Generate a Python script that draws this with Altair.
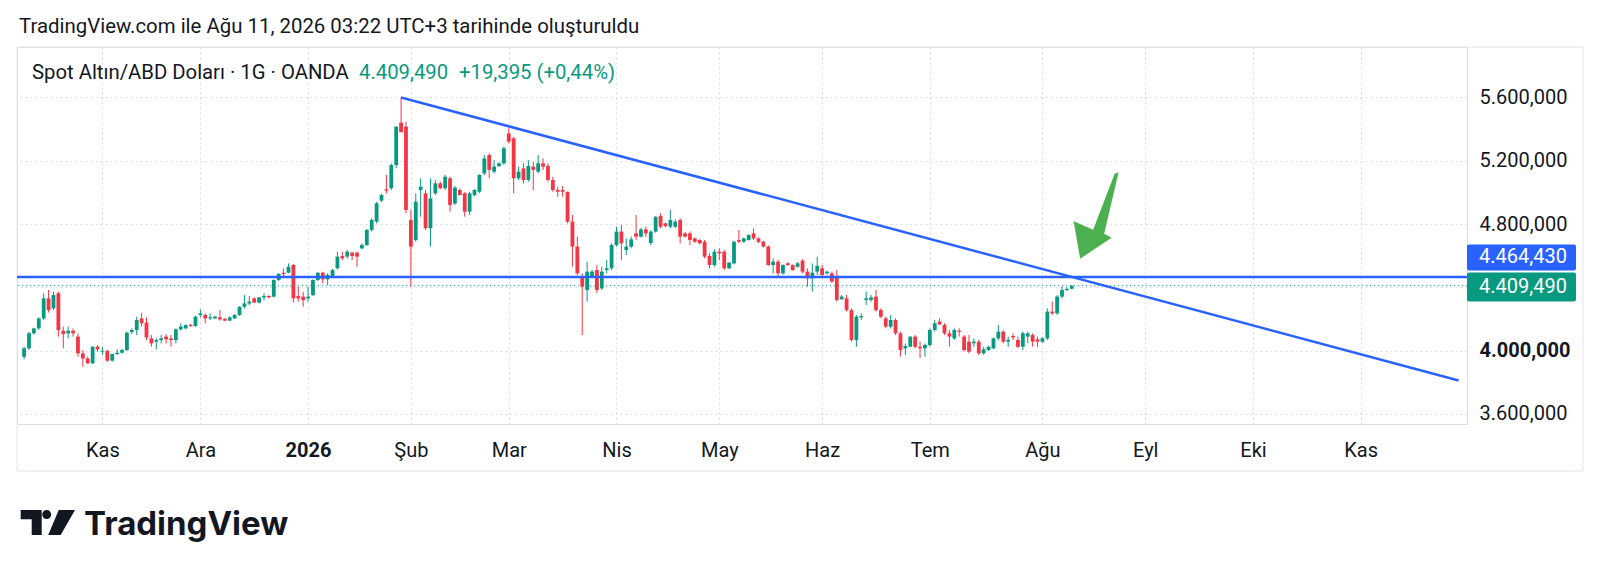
import altair as alt
import pandas as pd

# ---------------- data (XAU/USD daily, OANDA) ----------------
opens = [3961, 4014, 4109, 4140, 4203, 4330, 4267, 4362, 4125, 4109, 4125, 4088, 3982, 3950, 3919, 4024, 3993, 3999, 3936, 3978,
         3986, 4003, 4117, 4130, 4203, 4176, 4077, 4056, 4066, 4088, 4077, 4066, 4134, 4140, 4161, 4155, 4225, 4225, 4203, 4203,
         4210, 4201, 4189, 4203, 4225, 4277, 4298, 4330, 4303, 4336, 4345, 4341, 4446, 4492, 4492, 4541, 4345, 4341, 4330, 4351,
         4446, 4492, 4450, 4471, 4520, 4598, 4594, 4619, 4619, 4646, 4667, 4762, 4815, 4948, 5019, 5026, 5173, 5441, 5416, 4825,
         4699, 5015, 4994, 4773, 4994, 5057, 5026, 5089, 4930, 5015, 4994, 4878, 4983, 5004, 5120, 5236, 5131, 5167, 5184, 5373,
         5342, 5089, 5152, 5078, 5163, 5131, 5184, 5167, 5078, 5015, 5015, 5004, 4815, 4657, 4467, 4383, 4467, 4509, 4393, 4509,
         4520, 4667, 4752, 4636, 4657, 4741, 4720, 4766, 4680, 4752, 4851, 4804, 4783, 4783, 4825, 4741, 4741, 4709, 4699, 4688,
         4598, 4541, 4625, 4625, 4520, 4551, 4699, 4688, 4699, 4741, 4709, 4688, 4657, 4541, 4562, 4488, 4551, 4541, 4530, 4568,
         4499, 4457, 4499, 4520, 4488, 4488, 4467, 4324, 4330, 4256, 4067, 4210, 4320, 4320, 4341, 4256, 4204, 4151, 4193, 4109,
         4014, 4024, 4088, 4024, 4014, 4035, 4130, 4183, 4161, 4109, 4077, 4126, 4088, 4056, 4046, 4056, 3982, 4003, 4014, 4077,
         4119, 4056, 4092, 4067, 4024, 4088, 4098, 4071, 4056, 4077, 4246, 4235, 4341, 4383, 4391]
highs = [4024, 4119, 4145, 4210, 4362, 4383, 4372, 4372, 4151, 4151, 4140, 4109, 4003, 3961, 4028, 4035, 4024, 4003, 3980, 4007,
         4010, 4120, 4140, 4214, 4239, 4210, 4098, 4077, 4098, 4104, 4098, 4140, 4172, 4165, 4168, 4220, 4260, 4235, 4235, 4220,
         4256, 4205, 4215, 4230, 4280, 4351, 4345, 4336, 4340, 4362, 4350, 4450, 4490, 4520, 4551, 4547, 4404, 4372, 4404, 4450,
         4495, 4499, 4488, 4515, 4625, 4625, 4636, 4625, 4625, 4678, 4770, 4836, 4941, 4990, 5110, 5184, 5416, 5600, 5447, 4889,
         4994, 5089, 5015, 5089, 5078, 5068, 5110, 5099, 5040, 5026, 5004, 5004, 5020, 5115, 5236, 5247, 5205, 5190, 5289, 5405,
         5352, 5163, 5184, 5205, 5194, 5236, 5215, 5184, 5099, 5036, 5040, 5004, 4857, 4720, 4488, 4562, 4510, 4541, 4530, 4572,
         4678, 4783, 4794, 4709, 4720, 4857, 4775, 4783, 4760, 4850, 4868, 4810, 4889, 4830, 4836, 4750, 4752, 4715, 4705, 4699,
         4615, 4640, 4646, 4636, 4560, 4695, 4762, 4715, 4735, 4773, 4715, 4695, 4665, 4583, 4572, 4545, 4560, 4545, 4560, 4577,
         4520, 4551, 4594, 4541, 4505, 4499, 4509, 4351, 4351, 4267, 4225, 4235, 4372, 4351, 4383, 4267, 4214, 4225, 4204, 4119,
         4045, 4090, 4098, 4056, 4045, 4140, 4193, 4204, 4172, 4130, 4140, 4140, 4098, 4098, 4077, 4067, 4024, 4030, 4082, 4161,
         4130, 4088, 4109, 4088, 4119, 4119, 4109, 4088, 4085, 4267, 4309, 4351, 4404, 4400, 4415]
lows = [3944, 4003, 4100, 4130, 4193, 4240, 4256, 4088, 4014, 4077, 4088, 3961, 3898, 3915, 3915, 3993, 3972, 3929, 3930, 3972,
        3980, 3998, 4104, 4098, 4151, 4066, 4024, 4007, 4045, 4045, 4024, 4045, 4125, 4134, 4150, 4150, 4210, 4172, 4193, 4200,
        4189, 4185, 4185, 4200, 4220, 4267, 4288, 4300, 4298, 4319, 4330, 4336, 4440, 4467, 4488, 4303, 4309, 4277, 4309, 4345,
        4440, 4425, 4414, 4465, 4513, 4572, 4583, 4572, 4530, 4640, 4660, 4752, 4804, 4940, 4994, 5015, 5152, 5395, 4868, 4404,
        4688, 4846, 4762, 4657, 4983, 5020, 5015, 4878, 4920, 4980, 4846, 4857, 4975, 4995, 5110, 5089, 5120, 5160, 5173, 5310,
        4994, 5078, 5057, 5068, 5015, 5120, 5142, 5068, 5004, 4973, 4973, 4804, 4530, 4478, 4098, 4309, 4460, 4362, 4383, 4488,
        4509, 4657, 4572, 4604, 4646, 4699, 4715, 4720, 4667, 4745, 4773, 4780, 4773, 4775, 4678, 4715, 4667, 4680, 4670, 4583,
        4520, 4530, 4572, 4509, 4515, 4545, 4678, 4680, 4695, 4699, 4680, 4650, 4535, 4488, 4467, 4480, 4535, 4505, 4525, 4488,
        4404, 4372, 4478, 4457, 4480, 4429, 4309, 4320, 4246, 4056, 4024, 4193, 4288, 4309, 4246, 4204, 4140, 4140, 4098, 3961,
        3972, 4020, 4014, 3951, 3961, 4024, 4119, 4161, 4098, 4024, 4067, 4088, 3993, 3982, 4024, 3972, 3972, 3998, 4008, 4067,
        4046, 4024, 4067, 4014, 4003, 4046, 4024, 4024, 4050, 4067, 4225, 4225, 4330, 4375, 4386]
closes = [4014, 4109, 4140, 4203, 4330, 4256, 4351, 4130, 4104, 4125, 4109, 3982, 3950, 3919, 4024, 4007, 3999, 3936, 3978, 3986,
          4003, 4113, 4130, 4193, 4172, 4083, 4045, 4066, 4077, 4071, 4066, 4134, 4151, 4161, 4155, 4214, 4235, 4203, 4210, 4214,
          4197, 4189, 4210, 4225, 4277, 4298, 4309, 4303, 4336, 4345, 4336, 4446, 4484, 4484, 4530, 4330, 4330, 4319, 4341, 4446,
          4492, 4450, 4478, 4509, 4594, 4583, 4625, 4598, 4594, 4667, 4762, 4825, 4931, 4983, 5011, 5173, 5416, 5380, 4889, 4657,
          4941, 5036, 4773, 4962, 5057, 5026, 5099, 4920, 5030, 4983, 4878, 4994, 5015, 5110, 5215, 5142, 5163, 5184, 5279, 5321,
          5089, 5131, 5078, 5167, 5142, 5184, 5163, 5078, 5015, 5004, 5004, 4815, 4657, 4488, 4404, 4499, 4499, 4383, 4499, 4520,
          4667, 4752, 4678, 4657, 4703, 4720, 4766, 4741, 4752, 4846, 4783, 4787, 4825, 4815, 4720, 4720, 4699, 4688, 4678, 4594,
          4541, 4625, 4615, 4520, 4556, 4688, 4688, 4709, 4730, 4709, 4688, 4657, 4541, 4562, 4488, 4541, 4541, 4509, 4551, 4499,
          4457, 4492, 4535, 4478, 4499, 4436, 4320, 4341, 4256, 4067, 4214, 4218, 4330, 4336, 4256, 4214, 4151, 4193, 4109, 4003,
          4029, 4088, 4024, 4014, 4035, 4130, 4172, 4165, 4109, 4088, 4130, 4119, 4003, 3993, 4056, 3982, 4008, 4024, 4077, 4119,
          4056, 4067, 4083, 4024, 4109, 4109, 4056, 4056, 4077, 4246, 4235, 4341, 4383, 4390.1, 4409.49]

first_day = "2025-10-10"
holidays = ["2025-12-25", "2026-01-01", "2026-04-03"]
month_starts = ["2025-11", "2025-12", "2026-01", "2026-02", "2026-03", "2026-04", "2026-05",
                "2026-06", "2026-07", "2026-08", "2026-09", "2026-10", "2026-11"]
month_labels = ["Kas", "Ara", "2026", "Şub", "Mar", "Nis", "May", "Haz", "Tem", "Ağu", "Eyl", "Eki", "Kas"]
y_ticks = [3600, 4000, 4400, 4800, 5200, 5600]

level_price = 4464.43
last_price = 4409.49
trend_dates = ["2026-01-29", "2026-11-30"]
trend_prices = [5600, 3811]
arrow_tip = (215.7, 4581)          # bar position, price
view_bars = (-0.43, 293.7)         # visible bar window
view_prices = (3535.5, 5919.3)     # visible price window

header_1 = "TradingView.com ile Ağu 11, 2026 03:22 UTC+3 tarihinde oluşturuldu"
header_2 = "Spot Altın/ABD Doları · 1G · OANDA"
header_price = "4.409,490"
header_change = "+19,395 (+0,44%)"

# ---------------- build tables ----------------
days = pd.bdate_range(first_day, "2026-12-31")
days = days[~days.isin(pd.to_datetime(holidays))]
pos = {d.strftime("%Y-%m-%d"): i for i, d in enumerate(days)}

n = len(opens)
df = pd.DataFrame({
    "i": list(range(n)),
    "date": days[:n],
    "open": opens, "high": highs, "low": lows, "close": closes,
})
df["dir"] = ["up" if c >= o else "down" for o, c in zip(opens, closes)]

tick_idx = []
for m in month_starts:
    tick_idx.append(int(next(i for i, d in enumerate(days) if d.strftime("%Y-%m") == m)))
label_expr = "''"
for v, lab in reversed(list(zip(tick_idx, month_labels))):
    label_expr = f"datum.value == {v} ? '{lab}' : ({label_expr})"
year_idx = tick_idx[month_labels.index("2026")]

trend_df = pd.DataFrame({"i": [pos[d] for d in trend_dates], "p": trend_prices})
level_df = pd.DataFrame({"p": [level_price]})
last_df = pd.DataFrame({"p": [last_price]})
arrow_df = pd.DataFrame({"i": [arrow_tip[0]], "p": [arrow_tip[1]]})
one = pd.DataFrame({"k": [0]})

FONT = "Roboto"
TXT = "#131722"
UP = "#089981"
DOWN = "#f23645"
BLUE = "#2962ff"
GRID = "#dadde4"

xscale = alt.Scale(domain=list(view_bars), nice=False, zero=False)
yscale = alt.Scale(domain=list(view_prices), nice=False, zero=False)

xaxis = alt.Axis(values=tick_idx, labelExpr=label_expr, grid=True, gridColor=GRID, gridDash=[2, 3],
                 ticks=False, domain=False, title=None, labelFont=FONT, labelFontSize=20,
                 labelColor=TXT, labelPadding=26, labelBaseline="middle", labelFlush=False,
                 labelOverlap=False,
                 labelFontWeight={"condition": {"test": f"datum.value == {year_idx}", "value": "bold"},
                                  "value": "normal"})
yaxis = alt.Axis(orient="right", values=y_ticks, format=",.3f",
                 labelExpr="datum.value == 4400 ? '' : datum.label",
                 grid=True, gridColor=GRID, gridDash=[2, 3], ticks=False, domain=False, title=None,
                 labelFont=FONT, labelFontSize=20, labelColor=TXT, labelPadding=12, labelAlign="left",
                 labelFlush=False, labelOverlap=False,
                 labelFontWeight={"condition": {"test": "datum.value == 4000", "value": "bold"},
                                  "value": "normal"})


def X(field):
    return alt.X(f"{field}:Q", scale=xscale, axis=xaxis)


def Y(field):
    return alt.Y(f"{field}:Q", scale=yscale, axis=yaxis)


color = alt.Color("dir:N", scale=alt.Scale(domain=["up", "down"], range=[UP, DOWN]), legend=None)

frame = alt.Chart(one).mark_rect(fillOpacity=0, stroke="#e3e6ec", strokeWidth=1).encode(
    x=alt.value(0), x2=alt.value(1566), y=alt.value(0), y2=alt.value(424))

price_line = alt.Chart(last_df).mark_rule(color=UP, strokeWidth=1, strokeDash=[1, 3]).encode(y=Y("p"))

wicks = alt.Chart(df).mark_rule(strokeWidth=1).encode(x=X("i"), y=Y("low"), y2="high", color=color)
bodies = alt.Chart(df).mark_bar(size=3.8).encode(x=X("i"), y=Y("open"), y2="close", color=color)

level = alt.Chart(level_df).mark_rule(color=BLUE, strokeWidth=2.5).encode(y=Y("p"))
trend = alt.Chart(trend_df).mark_line(color=BLUE, strokeWidth=2.5).encode(x=X("i"), y=Y("p"))

arrow_path = "M0,0 L-6.5,-37.5 L13,-29 L34.5,-85 L38.5,-86.5 L24,-25 L31.5,-21 Z"
arrow = alt.Chart(arrow_df).mark_point(shape=arrow_path, size=4, filled=True, opacity=1,
                                       color="#4caf50", strokeWidth=0).encode(x=X("i"), y=Y("p"))

box_blue = alt.Chart(level_df).mark_rect(color=BLUE, cornerRadius=2, yOffset=-32.6, y2Offset=-6.6).encode(
    x=alt.value(1450), x2=alt.value(1559), y=Y("p"), y2="p")
box_green = alt.Chart(last_df).mark_rect(color=UP, cornerRadius=2, yOffset=-13.3, y2Offset=15.7).encode(
    x=alt.value(1450), x2=alt.value(1559), y=Y("p"), y2="p")
txt_blue = alt.Chart(level_df).mark_text(align="left", baseline="middle", font=FONT, fontSize=20,
                                         color="white", dy=-19.6).encode(
    x=alt.value(1462), y=Y("p"), text=alt.Text("p:Q", format=",.3f"))
txt_green = alt.Chart(last_df).mark_text(align="left", baseline="middle", font=FONT, fontSize=20,
                                         color="white", dy=1.2).encode(
    x=alt.value(1462), y=Y("p"), text=alt.Text("p:Q", format=",.3f"))


def label(text, x, y, size=20, col=TXT, weight="normal", font=FONT, baseline="middle"):
    return alt.Chart(one).mark_text(align="left", baseline=baseline, font=font, fontSize=size,
                                    color=col, fontWeight=weight, text=text).encode(
        x=alt.value(x), y=alt.value(y))


h1 = label(header_1, 2, -20, size=20.4)
h2 = label(header_2, 15, 26, size=20.3)
h3 = label(header_price, 342, 26, size=20.3, col=UP)
h4 = label(header_change, 442, 26, size=20.3, col=UP)

logo_path = ("M0,0 H21 V25 H11 V9.3 H0 Z "
             "M21.5,4.5 A4.5,4.5 0 1,0 30.5,4.5 A4.5,4.5 0 1,0 21.5,4.5 Z "
             "M38,0 L54.3,0 L40,25 L27.5,25 Z")
logo_icon = alt.Chart(one).mark_point(shape=logo_path, size=4, filled=True, opacity=1,
                                      color="#131722", strokeWidth=0).encode(
    x=alt.value(3.7), y=alt.value(463))
logo_text = label("TradingView", 67, 488, size=33, col="#131722", weight="bold", font="Inter",
                  baseline="alphabetic")

chart = alt.layer(
    frame, price_line, wicks, bodies, level, trend, arrow,
    box_blue, box_green, txt_blue, txt_green, h1, h2, h3, h4, logo_icon, logo_text
).properties(
    width=1450, height=377,
    autosize=alt.AutoSizeParams(type="none"),
    padding={"left": 9, "top": 39, "right": 125, "bottom": 141},
    background="white",
).configure_view(strokeWidth=0).configure(
    locale={"number": {"decimal": ",", "thousands": ".", "grouping": [3], "currency": ["", ""]}}
)

chart.save("out.html", embed_options={"renderer": "svg", "actions": False})
